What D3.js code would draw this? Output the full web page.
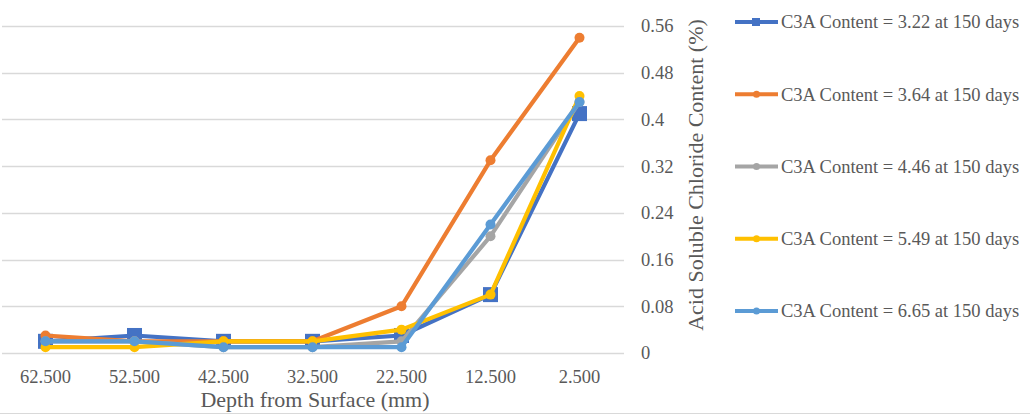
<!DOCTYPE html>
<html><head><meta charset="utf-8">
<script src="https://cdn.jsdelivr.net/npm/d3@7"></script>
<style>body{margin:0;background:#fff}svg{display:block}</style>
</head><body><svg id="c" width="1030" height="415"></svg>
<script>
const categories = ["62.500","52.500","42.500","32.500","22.500","12.500","2.500"];
const seriesNames = ["C3A Content = 3.22 at 150 days","C3A Content = 3.64 at 150 days","C3A Content = 4.46 at 150 days","C3A Content = 5.49 at 150 days","C3A Content = 6.65 at 150 days"];
const s322 = [0.02,0.03,0.02,0.02,0.03,0.10,0.41];
const s364 = [0.03,0.02,0.02,0.02,0.08,0.33,0.54];
const s446 = [0.02,0.02,0.01,0.01,0.02,0.20,0.43];
const s549 = [0.01,0.01,0.02,0.02,0.04,0.10,0.44];
const s665 = [0.02,0.02,0.01,0.01,0.01,0.22,0.43];
const yTicks = [0,0.08,0.16,0.24,0.32,0.4,0.48,0.56];
const yTickLabels = ["0","0.08","0.16","0.24","0.32","0.4","0.48","0.56"];
const colors = ["#4472C4","#ED7D31","#A5A5A5","#FFC000","#5B9BD5"];
const markers = ["square","circle","circle","circle","circle"];
const allSeries = [s322,s364,s446,s549,s665];

const FONT = "'Liberation Serif'";
const svg = d3.select("#c");
const x = d3.scaleBand().domain(categories).range([1,624]);
const y = d3.scaleLinear().domain([0,0.56]).range([353,26]);
const cx = c => x(c) + x.bandwidth()/2;

svg.append("g").selectAll("line").data(yTicks).join("line")
  .attr("x1",2).attr("x2",624).attr("y1",d=>Math.round(y(d))+0.5).attr("y2",d=>Math.round(y(d))+0.5)
  .attr("stroke","#D9D9D9").attr("stroke-width",1.3);

svg.append("g").selectAll("text").data(yTicks).join("text")
  .attr("x",641).attr("y",d=>y(d)).attr("dy","0.35em")
  .attr("font-family",FONT).attr("font-size",18.5).attr("fill","#595959").text((d,i)=>yTickLabels[i]);

svg.append("g").selectAll("text").data(categories).join("text")
  .attr("x",d=>cx(d)).attr("y",383).attr("text-anchor","middle")
  .attr("font-family",FONT).attr("font-size",18.5).attr("fill","#595959").text(d=>d);

svg.append("text").attr("x",315).attr("y",407).attr("text-anchor","middle")
  .attr("font-family",FONT).attr("font-size",22).attr("fill","#595959").text("Depth from Surface (mm)");

svg.append("text").attr("transform","translate(703,175) rotate(-90)").attr("text-anchor","middle")
  .attr("font-family",FONT).attr("font-size",22).attr("fill","#595959").text("Acid Soluble Chloride Content (%)");

svg.append("line").attr("x1",0).attr("x2",1030).attr("y1",413.5).attr("y2",413.5).attr("stroke","#D9D9D9");

const line = d3.line().x((d,i)=>cx(categories[i])).y(d=>y(d));
allSeries.forEach((s,k)=>{
  const g = svg.append("g");
  g.append("path").datum(s).attr("d",line).attr("fill","none")
    .attr("stroke",colors[k]).attr("stroke-width",4.2).attr("stroke-linejoin","round");
  if(markers[k]==="square"){
    g.selectAll("rect").data(s).join("rect")
      .attr("x",(d,i)=>cx(categories[i])-7.5).attr("y",d=>y(d)-7.5)
      .attr("width",15).attr("height",15).attr("fill",colors[k]);
  } else {
    g.selectAll("circle").data(s).join("circle")
      .attr("cx",(d,i)=>cx(categories[i])).attr("cy",d=>y(d)).attr("r",5).attr("fill",colors[k]);
  }
});

const ly = d3.scalePoint().domain(seriesNames).range([22,311]);
seriesNames.forEach((n,k)=>{
  const g = svg.append("g").attr("transform",`translate(0,${ly(n)})`);
  g.append("line").attr("x1",735).attr("x2",778).attr("y1",0).attr("y2",0).attr("stroke",colors[k]).attr("stroke-width",4);
  if(markers[k]==="square") g.append("rect").attr("x",752).attr("y",-4).attr("width",8).attr("height",8).attr("fill",colors[k]);
  else g.append("circle").attr("cx",756.5).attr("cy",0).attr("r",3.5).attr("fill",colors[k]);
  g.append("text").attr("x",781).attr("y",0).attr("dy","0.35em")
    .attr("font-family",FONT).attr("font-size",18.5).attr("fill","#595959").text(n);
});
</script></body></html>
